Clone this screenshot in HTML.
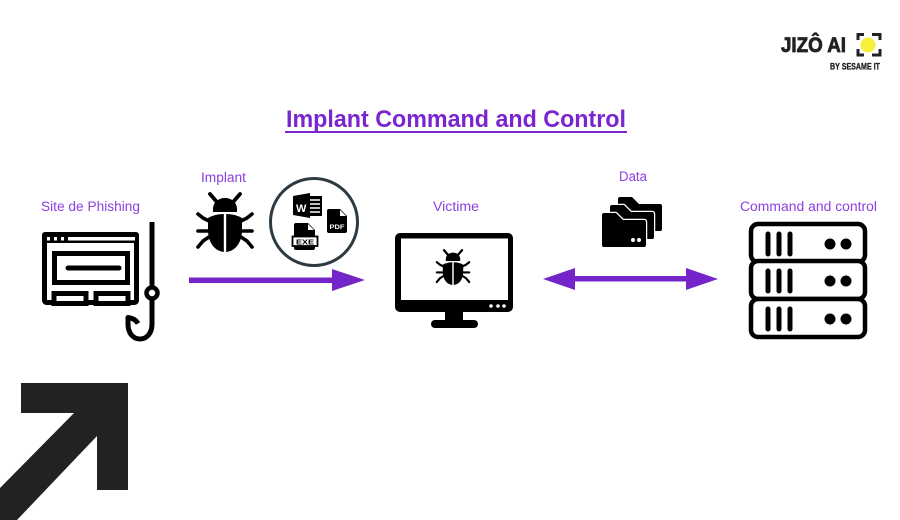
<!DOCTYPE html>
<html><head><meta charset="utf-8"><style>
html,body{margin:0;padding:0;background:#fff}
svg{display:block;filter:blur(.3px)}
text{font-family:"Liberation Sans",sans-serif}
.l{font-size:13.5px;fill:#8a3fe0}
</style></head><body>
<svg width="900" height="520" viewBox="0 0 900 520" xmlns="http://www.w3.org/2000/svg">
<defs>
<g id="bug">
<path d="M-9 -21L-15 -28M9 -21L15 -28" stroke="#000" stroke-width="3.800" stroke-linecap="round" fill="none"/>
<path d="M-12 -10V-13C-12 -20 -6 -24 0 -24C6 -24 12 -20 12 -13V-10Z" fill="#000"/>
<path d="M-1.200 -8V30C-10 29 -17 21 -17 8V-4Q-10 -8 -1.200 -8Z" fill="#000"/>
<path d="M1.200 -8V30C10 29 17 21 17 8V-4Q10 -8 1.200 -8Z" fill="#000"/>
<path d="M-16 -1L-22 -4L-27 -8M16 -1L22 -4L27 -8M-16 9H-27M16 9H27M-16 15L-22 19L-27 25M16 15L22 19L27 25" stroke="#000" stroke-width="3.600" stroke-linecap="round" stroke-linejoin="round" fill="none"/>
</g>
<g id="srv">
<rect x="0" y="0" width="114" height="38" rx="7" fill="#fff" stroke="#000" stroke-width="4.500"/>
<path d="M17 10V30M28 10V30M39 10V30" stroke="#000" stroke-width="5" stroke-linecap="round"/>
<circle cx="79" cy="20" r="5.500" fill="#000"/><circle cx="95" cy="20" r="5.500" fill="#000"/>
</g>
<path id="fold" d="M2 0H14L21 7H42Q44 7 44 9V32Q44 34 42 34H2Q0 34 0 32V2Q0 0 2 0Z" fill="#000" stroke="#fff" stroke-width="2.500" paint-order="stroke" stroke-linejoin="round"/>
</defs>

<!-- big arrow -->
<polygon points="21,383 128,383 128,490 97,490 97,436 17,520 0,520 0,488 74,413 21,413" fill="#222"/>

<!-- logo -->
<text x="781" y="52" font-size="21" font-weight="700" fill="#222" stroke="#222" stroke-width=".8" textLength="65" lengthAdjust="spacingAndGlyphs">JIZÔ AI</text>
<text x="830" y="69.500" font-size="9" font-weight="700" fill="#222" stroke="#222" stroke-width=".3" textLength="50" lengthAdjust="spacingAndGlyphs">BY SESAME IT</text>
<circle cx="868" cy="45" r="7.500" fill="#f7ef3a"/>
<path d="M858 40V34.500H864M872 34.500H880V40M858 49V55H864M872 55H880V49" fill="none" stroke="#222" stroke-width="3"/>

<!-- title -->
<text x="286" y="127" font-size="24" font-weight="700" fill="#7a25cf" textLength="340" lengthAdjust="spacingAndGlyphs">Implant Command and Control</text>
<rect x="285" y="131" width="342" height="2" fill="#7a25cf"/>

<!-- labels -->
<text class="l" x="41" y="211" textLength="99" lengthAdjust="spacingAndGlyphs">Site de Phishing</text>
<text class="l" x="201" y="182" textLength="45" lengthAdjust="spacingAndGlyphs">Implant</text>
<text class="l" x="433" y="211" textLength="46" lengthAdjust="spacingAndGlyphs">Victime</text>
<text class="l" x="619" y="181" textLength="28" lengthAdjust="spacingAndGlyphs">Data</text>
<text class="l" x="740" y="211" textLength="137" lengthAdjust="spacingAndGlyphs">Command and control</text>

<!-- phishing window -->
<rect x="44.500" y="234.500" width="92" height="68" rx="2" fill="#fff" stroke="#000" stroke-width="5"/>
<rect x="42" y="232" width="97" height="11" rx="3" fill="#000"/>
<rect x="68" y="237" width="67" height="3.500" fill="#fff"/>
<rect x="47" y="237" width="3" height="3.500" fill="#fff"/><rect x="54" y="237" width="3" height="3.500" fill="#fff"/><rect x="61" y="237" width="3" height="3.500" fill="#fff"/>
<rect x="54.500" y="253.500" width="73" height="29" fill="#fff" stroke="#000" stroke-width="5"/>
<path d="M68 268H119" stroke="#000" stroke-width="5" stroke-linecap="round"/>
<rect x="54" y="293.500" width="32" height="10" fill="#fff" stroke="#000" stroke-width="5"/>
<rect x="96" y="293.500" width="32" height="10" fill="#fff" stroke="#000" stroke-width="5"/>
<!-- hook -->
<path d="M152 222V288M152 299V324C152 344 128 344 128 324V317.500C132 318 136 320 138 323.500" fill="none" stroke="#000" stroke-width="5" stroke-linejoin="round"/>
<circle cx="152" cy="293" r="5.500" fill="#fff" stroke="#000" stroke-width="4.500"/>

<!-- implant bug -->
<use href="#bug" x="225" y="222"/>

<!-- circle with files -->
<circle cx="314" cy="222" r="43.500" fill="#fff" stroke="#2e3a42" stroke-width="3"/>
<rect x="303" y="196" width="19" height="20" fill="#000"/>
<path d="M306 200H320M306 204H320M306 208H320M306 212H320" stroke="#fff" stroke-width="1.400"/>
<path d="M293 196L310 193V218L293 215Z" fill="#000"/>
<text x="296" y="212" font-size="11" font-weight="700" fill="#fff">W</text>
<path d="M329 209H340L347 216V231Q347 233 345 233H329Q327 233 327 231V211Q327 209 329 209Z" fill="#000"/>
<path d="M340 210V216H346Z" fill="#fff"/>
<text x="329.500" y="229" font-size="6.500" font-weight="700" fill="#fff" textLength="15" lengthAdjust="spacingAndGlyphs">PDF</text>
<path d="M296 223H308L315 230V248Q315 250 313 250H296Q294 250 294 248V225Q294 223 296 223Z" fill="#000"/>
<path d="M308 224V230H314Z" fill="#fff"/>
<rect x="292.500" y="236.500" width="25" height="9.500" fill="#fff" stroke="#000" stroke-width="1.800"/>
<text x="296" y="244.500" font-size="7.500" font-weight="700" fill="#000" textLength="18" lengthAdjust="spacingAndGlyphs">EXE</text>

<!-- implant arrow -->
<rect x="189" y="277.500" width="146" height="5.500" fill="#7425c9"/>
<polygon points="332,269 365,280 332,291" fill="#7425c9"/>

<!-- monitor -->
<rect x="395" y="233" width="118" height="79" rx="5" fill="#000"/>
<rect x="401" y="238.500" width="107" height="61.500" fill="#fff"/>
<circle cx="491" cy="306" r="1.800" fill="#fff"/><circle cx="498" cy="306" r="1.800" fill="#fff"/><circle cx="504" cy="306" r="1.800" fill="#fff"/>
<rect x="445" y="311" width="18" height="10" fill="#000"/>
<rect x="431" y="320" width="47" height="8" rx="4" fill="#000"/>
<use href="#bug" transform="translate(453 267) scale(.6)"/>

<!-- folders -->
<use href="#fold" x="618" y="197"/>
<use href="#fold" x="610" y="205"/>
<use href="#fold" x="602" y="213"/>
<circle cx="633" cy="240" r="2" fill="#fff"/><circle cx="639" cy="240" r="2" fill="#fff"/>

<!-- data arrow -->
<rect x="570" y="276" width="120" height="5.500" fill="#7425c9"/>
<polygon points="543,279 575,268 575,290" fill="#7425c9"/>
<polygon points="718,279 686,268 686,290" fill="#7425c9"/>

<!-- server -->
<use href="#srv" x="751" y="224"/>
<use href="#srv" x="751" y="261"/>
<use href="#srv" x="751" y="299"/>
</svg>
</body></html>
